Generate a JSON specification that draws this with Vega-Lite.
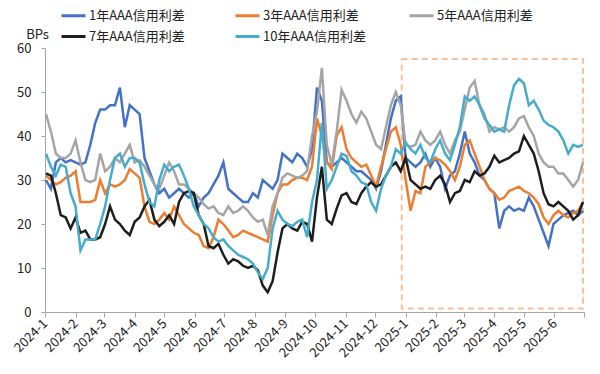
{
  "$schema": "https://vega.github.io/schema/vega-lite/v6.json",
  "width": 539,
  "height": 264,
  "autosize": {"type": "none"},
  "padding": {"left": 45, "top": 48, "right": 16, "bottom": 62},
  "background": "white",
  "config": {"view": {"stroke": null}, "font": "Noto Sans CJK SC"},
  "encoding": {
    "x": {
      "field": "d", "type": "temporal",
      "scale": {"domain": [{"year": 2024, "month": 1, "date": 1}, {"year": 2025, "month": 7, "date": 1}]},
      "axis": {
        "title": null, "grid": false,
        "tickCount": {"interval": "month", "step": 1},
        "labelExpr": "datum.value >= datetime(2025,6,1) ? '' : timeFormat(datum.value, '%Y-%-m')",
        "labelAngle": -45, "labelAlign": "right", "labelBaseline": "middle",
        "labelOverlap": false, "labelFlush": false, "labelBound": false,
        "labelFontSize": 13, "labelColor": "#222222", "labelPadding": 4,
        "domainColor": "#A6A6A6", "tickColor": "#A6A6A6", "tickSize": 5
      }
    },
    "y": {
      "field": "v", "type": "quantitative",
      "scale": {"domain": [0, 60], "nice": false, "zero": true},
      "axis": {
        "values": [0, 10, 20, 30, 40, 50, 60], "grid": false,
        "title": "BPs", "titleAngle": 0, "titleX": -8, "titleY": -14,
        "titleAlign": "center", "titleBaseline": "middle", "titleFontSize": 13,
        "titleFontWeight": "normal", "titleColor": "#222222",
        "labelFontSize": 13, "labelColor": "#222222", "labelPadding": 10,
        "tickSize": 4, "domainColor": "#A6A6A6", "tickColor": "#A6A6A6"
      }
    }
  },
  "layer": [
    {
      "data": {"values": [{"d": "2024-12-28", "d2": "2025-06-30", "v": 57.5, "v2": 0.8}]},
      "mark": {"type": "rect", "fillOpacity": 0, "stroke": "#F5C29C", "strokeWidth": 2, "strokeDash": [6, 4]},
      "encoding": {"x2": {"field": "d2"}, "y2": {"field": "v2"}}
    },
    {
      "data": {"values": [
        {"d":"2024-01-02","y1":30,"y3":31,"y5":45,"y7":31.5,"y10":36},
        {"d":"2024-01-07","y1":28,"y3":30,"y5":41,"y7":31,"y10":33},
        {"d":"2024-01-12","y1":34,"y3":29,"y5":36,"y7":27,"y10":31},
        {"d":"2024-01-17","y1":35,"y3":29.5,"y5":35,"y7":22,"y10":33.5},
        {"d":"2024-01-22","y1":34,"y3":30.5,"y5":35,"y7":21.5,"y10":33},
        {"d":"2024-01-27","y1":34.5,"y3":31,"y5":36,"y7":19,"y10":27},
        {"d":"2024-02-01","y1":34,"y3":32,"y5":39,"y7":21.5,"y10":24},
        {"d":"2024-02-06","y1":33.5,"y3":25,"y5":34,"y7":18,"y10":14},
        {"d":"2024-02-11","y1":34,"y3":25,"y5":30,"y7":18.5,"y10":16.5},
        {"d":"2024-02-16","y1":38,"y3":25,"y5":29.5,"y7":16.5,"y10":16.5},
        {"d":"2024-02-21","y1":43,"y3":25.5,"y5":30,"y7":16.5,"y10":16.5},
        {"d":"2024-02-26","y1":46,"y3":30,"y5":36,"y7":17,"y10":20},
        {"d":"2024-03-02","y1":46,"y3":27,"y5":32,"y7":20,"y10":24},
        {"d":"2024-03-07","y1":47,"y3":29,"y5":33,"y7":24,"y10":30},
        {"d":"2024-03-12","y1":47,"y3":28.5,"y5":35,"y7":21,"y10":35},
        {"d":"2024-03-17","y1":51,"y3":29,"y5":34,"y7":20,"y10":36},
        {"d":"2024-03-22","y1":42,"y3":30,"y5":36,"y7":18.5,"y10":33},
        {"d":"2024-03-27","y1":47,"y3":32.5,"y5":38,"y7":17.5,"y10":35},
        {"d":"2024-04-01","y1":46,"y3":31.5,"y5":34,"y7":20.5,"y10":35},
        {"d":"2024-04-06","y1":45,"y3":30.5,"y5":34.5,"y7":21.5,"y10":34},
        {"d":"2024-04-11","y1":35,"y3":24,"y5":33,"y7":24,"y10":29},
        {"d":"2024-04-16","y1":32,"y3":20.5,"y5":31,"y7":25.5,"y10":25},
        {"d":"2024-04-21","y1":29,"y3":20,"y5":29,"y7":21,"y10":24},
        {"d":"2024-04-26","y1":27,"y3":21,"y5":28,"y7":19.5,"y10":30},
        {"d":"2024-05-01","y1":28,"y3":22.5,"y5":31,"y7":20.5,"y10":33.5},
        {"d":"2024-05-06","y1":26,"y3":21,"y5":34,"y7":22,"y10":32},
        {"d":"2024-05-11","y1":27,"y3":24,"y5":32,"y7":20,"y10":33},
        {"d":"2024-05-16","y1":28,"y3":22,"y5":29,"y7":25,"y10":33.5},
        {"d":"2024-05-21","y1":27,"y3":20,"y5":29,"y7":27,"y10":31},
        {"d":"2024-05-26","y1":26,"y3":19,"y5":28,"y7":27.5,"y10":28},
        {"d":"2024-05-31","y1":27,"y3":18,"y5":27,"y7":27,"y10":24},
        {"d":"2024-06-05","y1":24,"y3":17.5,"y5":26,"y7":22,"y10":22},
        {"d":"2024-06-10","y1":26,"y3":15,"y5":24.5,"y7":20,"y10":20},
        {"d":"2024-06-15","y1":27,"y3":14.5,"y5":23.5,"y7":15,"y10":19},
        {"d":"2024-06-20","y1":29,"y3":17,"y5":24,"y7":14.5,"y10":17},
        {"d":"2024-06-25","y1":31,"y3":21,"y5":22.5,"y7":15.5,"y10":16},
        {"d":"2024-06-30","y1":34,"y3":20,"y5":22,"y7":13,"y10":16.5},
        {"d":"2024-07-05","y1":28,"y3":18.5,"y5":24,"y7":11,"y10":15},
        {"d":"2024-07-10","y1":27,"y3":17,"y5":22.5,"y7":12,"y10":14},
        {"d":"2024-07-15","y1":26,"y3":17.5,"y5":23,"y7":11.5,"y10":13},
        {"d":"2024-07-20","y1":25,"y3":18.5,"y5":24,"y7":10.5,"y10":12.5},
        {"d":"2024-07-25","y1":25,"y3":18,"y5":23,"y7":10,"y10":12},
        {"d":"2024-07-30","y1":27,"y3":17.5,"y5":21.5,"y7":10.5,"y10":11},
        {"d":"2024-08-04","y1":26,"y3":17,"y5":20.5,"y7":9.5,"y10":9},
        {"d":"2024-08-09","y1":30,"y3":16.5,"y5":21,"y7":6,"y10":7.5},
        {"d":"2024-08-14","y1":29,"y3":16,"y5":17.5,"y7":4.5,"y10":10},
        {"d":"2024-08-19","y1":28,"y3":22,"y5":24,"y7":7,"y10":19},
        {"d":"2024-08-24","y1":30,"y3":27,"y5":27,"y7":13.5,"y10":23},
        {"d":"2024-08-29","y1":36,"y3":29,"y5":30.5,"y7":19,"y10":21},
        {"d":"2024-09-03","y1":35,"y3":29,"y5":31.5,"y7":20,"y10":20},
        {"d":"2024-09-08","y1":34,"y3":30,"y5":31,"y7":19,"y10":19.5},
        {"d":"2024-09-13","y1":36,"y3":30.5,"y5":30.5,"y7":18.5,"y10":20.5},
        {"d":"2024-09-18","y1":35,"y3":30.5,"y5":31,"y7":20.5,"y10":21},
        {"d":"2024-09-23","y1":33,"y3":30,"y5":32,"y7":20,"y10":17},
        {"d":"2024-09-28","y1":37,"y3":33,"y5":40,"y7":16,"y10":25},
        {"d":"2024-10-03","y1":51,"y3":44,"y5":45.5,"y7":26,"y10":30},
        {"d":"2024-10-08","y1":48,"y3":40,"y5":55.5,"y7":33,"y10":43},
        {"d":"2024-10-13","y1":34,"y3":34,"y5":38,"y7":21,"y10":28},
        {"d":"2024-10-18","y1":33,"y3":32.5,"y5":33.5,"y7":20,"y10":30},
        {"d":"2024-10-23","y1":34,"y3":40,"y5":41,"y7":23.5,"y10":33},
        {"d":"2024-10-28","y1":35,"y3":42,"y5":50.5,"y7":26.5,"y10":36},
        {"d":"2024-11-02","y1":34,"y3":37,"y5":48,"y7":27,"y10":35.5},
        {"d":"2024-11-07","y1":33,"y3":35,"y5":45,"y7":25,"y10":32},
        {"d":"2024-11-12","y1":32,"y3":34,"y5":43,"y7":24.5,"y10":31},
        {"d":"2024-11-17","y1":32,"y3":33,"y5":45.5,"y7":27,"y10":29.5},
        {"d":"2024-11-22","y1":31,"y3":33.5,"y5":44,"y7":28.5,"y10":29},
        {"d":"2024-11-27","y1":30,"y3":31,"y5":41,"y7":29.5,"y10":25},
        {"d":"2024-12-02","y1":28,"y3":28.5,"y5":38,"y7":28.5,"y10":23},
        {"d":"2024-12-07","y1":32,"y3":33,"y5":37,"y7":29,"y10":28},
        {"d":"2024-12-12","y1":38,"y3":37,"y5":42,"y7":31,"y10":31},
        {"d":"2024-12-17","y1":44,"y3":41,"y5":47,"y7":33,"y10":33},
        {"d":"2024-12-22","y1":48,"y3":42,"y5":50,"y7":34,"y10":37},
        {"d":"2024-12-27","y1":49,"y3":38,"y5":47,"y7":32,"y10":36},
        {"d":"2025-01-01","y1":35,"y3":30,"y5":38,"y7":35,"y10":38.5},
        {"d":"2025-01-06","y1":34,"y3":23,"y5":37.5,"y7":30,"y10":37},
        {"d":"2025-01-11","y1":33,"y3":27.5,"y5":38,"y7":29,"y10":36},
        {"d":"2025-01-16","y1":34,"y3":27,"y5":41,"y7":28,"y10":38},
        {"d":"2025-01-21","y1":36,"y3":33,"y5":39,"y7":28.5,"y10":35},
        {"d":"2025-01-26","y1":33,"y3":34,"y5":38,"y7":28,"y10":34},
        {"d":"2025-01-31","y1":35,"y3":35,"y5":39,"y7":30,"y10":37},
        {"d":"2025-02-05","y1":33,"y3":34.5,"y5":41,"y7":31,"y10":39},
        {"d":"2025-02-10","y1":28,"y3":33.5,"y5":38,"y7":29,"y10":36},
        {"d":"2025-02-15","y1":31,"y3":32,"y5":36,"y7":25,"y10":34.5},
        {"d":"2025-02-20","y1":32,"y3":30,"y5":39,"y7":27,"y10":38},
        {"d":"2025-02-25","y1":36,"y3":33,"y5":41,"y7":27.5,"y10":42},
        {"d":"2025-03-02","y1":41,"y3":38,"y5":46,"y7":30,"y10":49},
        {"d":"2025-03-07","y1":36,"y3":39,"y5":51,"y7":29.5,"y10":48},
        {"d":"2025-03-12","y1":34,"y3":36,"y5":52.5,"y7":32,"y10":49},
        {"d":"2025-03-17","y1":31,"y3":33,"y5":47,"y7":31,"y10":47},
        {"d":"2025-03-22","y1":30,"y3":30,"y5":45,"y7":31.5,"y10":44},
        {"d":"2025-03-27","y1":28,"y3":28,"y5":41,"y7":33,"y10":42.5},
        {"d":"2025-04-01","y1":27,"y3":27,"y5":42,"y7":35.5,"y10":41},
        {"d":"2025-04-06","y1":19,"y3":25.5,"y5":41.5,"y7":34,"y10":41.5},
        {"d":"2025-04-11","y1":23,"y3":26,"y5":42,"y7":34.5,"y10":41},
        {"d":"2025-04-16","y1":24,"y3":27.5,"y5":41,"y7":35,"y10":47},
        {"d":"2025-04-21","y1":23,"y3":28,"y5":42,"y7":36,"y10":51.5},
        {"d":"2025-04-26","y1":23.5,"y3":28.5,"y5":44,"y7":36.5,"y10":53},
        {"d":"2025-05-01","y1":23,"y3":27.5,"y5":44.5,"y7":40,"y10":52},
        {"d":"2025-05-06","y1":26,"y3":27,"y5":42,"y7":38,"y10":47},
        {"d":"2025-05-11","y1":24,"y3":26,"y5":40,"y7":36,"y10":48},
        {"d":"2025-05-16","y1":21,"y3":24.5,"y5":36,"y7":32,"y10":46},
        {"d":"2025-05-21","y1":18,"y3":21.5,"y5":34,"y7":27,"y10":43.5},
        {"d":"2025-05-26","y1":15,"y3":20,"y5":33,"y7":24.5,"y10":42.5},
        {"d":"2025-05-31","y1":20,"y3":22,"y5":33,"y7":24,"y10":42},
        {"d":"2025-06-05","y1":21,"y3":23,"y5":31.5,"y7":25,"y10":41},
        {"d":"2025-06-10","y1":22,"y3":22,"y5":31.5,"y7":24,"y10":39},
        {"d":"2025-06-15","y1":22.5,"y3":21.5,"y5":30,"y7":23,"y10":36},
        {"d":"2025-06-20","y1":23,"y3":22.5,"y5":28.5,"y7":21,"y10":38},
        {"d":"2025-06-25","y1":22,"y3":23,"y5":30,"y7":22,"y10":37.5},
        {"d":"2025-06-30","y1":23,"y3":25,"y5":34,"y7":25,"y10":38}
      ]},
      "transform": [{"fold": ["y1", "y3", "y5", "y7", "y10"], "as": ["s", "v"]}],
      "mark": {"type": "line", "strokeWidth": 2.5},
      "encoding": {
        "color": {
          "field": "s", "type": "nominal",
          "scale": {"domain": ["y1", "y3", "y5", "y7", "y10"], "range": ["#4472C4", "#ED7D31", "#A5A5A5", "#1E1E1E", "#47ACCB"]},
          "legend": {
            "title": null, "orient": "none", "legendX": 15, "legendY": -46,
            "direction": "horizontal", "columns": 3, "gridAlign": "all",
            "columnPadding": 37, "rowPadding": -2,
            "symbolType": "stroke", "symbolSize": 576, "symbolStrokeWidth": 3,
            "labelFontSize": 13, "labelColor": "#222222", "labelOffset": 2, "labelLimit": 0,
            "labelExpr": "replace(datum.label, 'y', '') + '年AAA信用利差'"
          }
        }
      }
    }
  ]
}
